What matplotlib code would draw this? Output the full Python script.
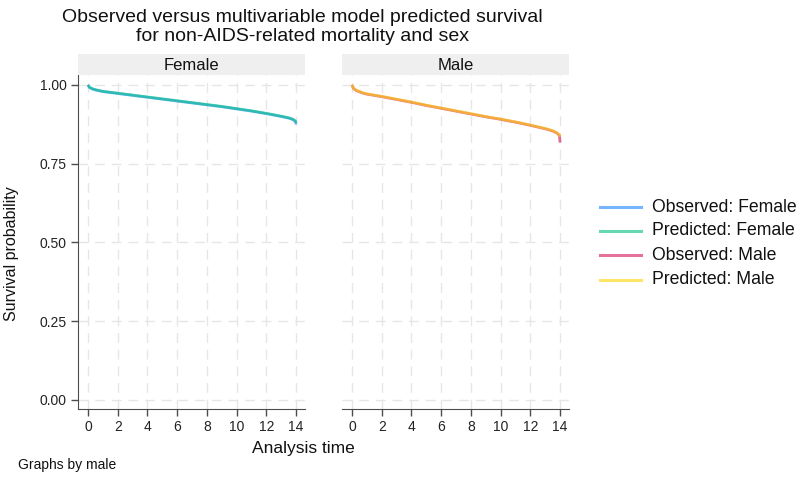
import matplotlib
matplotlib.use("Agg")
import matplotlib.pyplot as plt
from matplotlib.lines import Line2D

plt.rcParams['font.family'] = ['Liberation Sans', 'DejaVu Sans']

# ---- data ----
panels = ["Female", "Male"]

time_f = [0, 0.1, 0.3, 0.6, 1, 1.5, 2, 3, 4, 5, 6, 7, 8, 9, 10, 11, 12, 13, 13.5, 13.8, 13.95, 14]
obs_f = [1.0, 0.992, 0.987, 0.983, 0.979, 0.976, 0.973, 0.967, 0.961, 0.955, 0.949, 0.943, 0.937,
         0.931, 0.924, 0.917, 0.909, 0.900, 0.895, 0.890, 0.884, 0.875]
pred_f = [1.0, 0.993, 0.988, 0.984, 0.980, 0.977, 0.974, 0.968, 0.962, 0.956, 0.950, 0.944, 0.938,
          0.932, 0.925, 0.918, 0.910, 0.901, 0.896, 0.891, 0.886, 0.880]

time_m = [0, 0.1, 0.3, 0.75, 1, 2, 3, 4, 5, 6, 7, 8, 9, 10, 11, 12, 13, 13.5, 13.8, 13.95, 14]
obs_m = [1.0, 0.989, 0.982, 0.974, 0.971, 0.963, 0.954, 0.945, 0.935, 0.926, 0.917, 0.908, 0.899,
         0.891, 0.882, 0.872, 0.861, 0.854, 0.847, 0.840, 0.817]
pred_m = [1.0, 0.990, 0.983, 0.975, 0.972, 0.964, 0.955, 0.946, 0.936, 0.927, 0.918, 0.909, 0.900,
          0.892, 0.883, 0.873, 0.862, 0.855, 0.848, 0.842, 0.836]

series_labels = ["Observed: Female", "Predicted: Female", "Observed: Male", "Predicted: Male"]
series_colors = ["#1a85ff", "#00bf7f", "#d41159", "#ffd400"]
line_alpha = 0.6

x_ticks = [0, 2, 4, 6, 8, 10, 12, 14]
y_ticks = [0.0, 0.25, 0.5, 0.75, 1.0]

# ---- figure ----
W, H = 800, 480
fig = plt.figure(figsize=(8, 4.8), dpi=100)

def fx(px):
    return px / W

def fy(py):
    return 1 - py / H

ax_top, ax_bot = 75, 409
panel_x = [(78, 305), (342, 569)]
data = [(time_f, obs_f, pred_f, 0), (time_m, obs_m, pred_m, 2)]

xlim = (-0.673, 14.6)
ylim = (-0.0286, 1.0317)

for i, (name, (x0, x1)) in enumerate(zip(panels, panel_x)):
    ax = fig.add_axes([fx(x0), fy(ax_bot), fx(x1 - x0), (ax_bot - ax_top) / H])
    t, o, p, ci = data[i]
    ax.plot(t, o, color=series_colors[ci], lw=2.0, alpha=line_alpha, solid_capstyle='butt', zorder=3)
    ax.plot(t, p, color=series_colors[ci + 1], lw=2.0, alpha=line_alpha, solid_capstyle='butt', zorder=4)
    ax.set_xlim(*xlim)
    ax.set_ylim(*ylim)
    ax.set_xticks(x_ticks)
    ax.set_yticks(y_ticks)
    ax.grid(True, color="#e6e6e6", linestyle=(0, (7, 5)), lw=1.0)
    ax.set_axisbelow(True)
    for s in ["top", "right"]:
        ax.spines[s].set_visible(False)
    ax.spines["bottom"].set_color("#4d4d4d")
    ax.spines["left"].set_color("#4d4d4d")
    ax.tick_params(axis='x', length=5, width=1, color="#4d4d4d", labelsize=10, pad=3, labelcolor="#222222")
    if i == 0:
        ax.set_yticklabels(["%.2f" % v for v in y_ticks])
        ax.tick_params(axis='y', length=5, width=1, color="#4d4d4d", labelsize=10, pad=3, labelcolor="#222222")
    else:
        ax.spines["left"].set_visible(False)
        ax.tick_params(axis='y', length=0, labelleft=False)
    # strip header
    sax = fig.add_axes([fx(x0), fy(ax_top), fx(x1 - x0), 21 / H])
    sax.set_facecolor("#efefef")
    sax.set_xticks([])
    sax.set_yticks([])
    for s in sax.spines.values():
        s.set_visible(False)
    sax.text(0.5, 0.47, name, ha='center', va='center', fontsize=12, color="#111111", transform=sax.transAxes)

# titles and labels
fig.text(fx(302), fy(27), "Observed versus multivariable model predicted survival\nfor non-AIDS-related mortality and sex",
         ha='center', va='center', fontsize=14, linespacing=1.1, color="#111111")
fig.text(fx(12), fy(254), "Survival probability", rotation=90, ha='center', va='center', fontsize=11.5, color="#111111")
fig.text(fx(303), fy(448), "Analysis time", ha='center', va='center', fontsize=12.5, color="#111111")
fig.text(fx(18), fy(465), "Graphs by male", ha='left', va='center', fontsize=10, color="#111111")

# legend
leg_y = [207, 231, 255, 280]
for lbl, col, yy in zip(series_labels, series_colors, leg_y):
    fig.add_artist(Line2D([fx(600), fx(641)], [fy(yy), fy(yy)], color=col, alpha=line_alpha, lw=2.2,
                          transform=fig.transFigure))
    fig.text(fx(652), fy(yy), lbl, ha='left', va='center', fontsize=12.7, color="#111111")

fig.savefig("out.png", dpi=100)
